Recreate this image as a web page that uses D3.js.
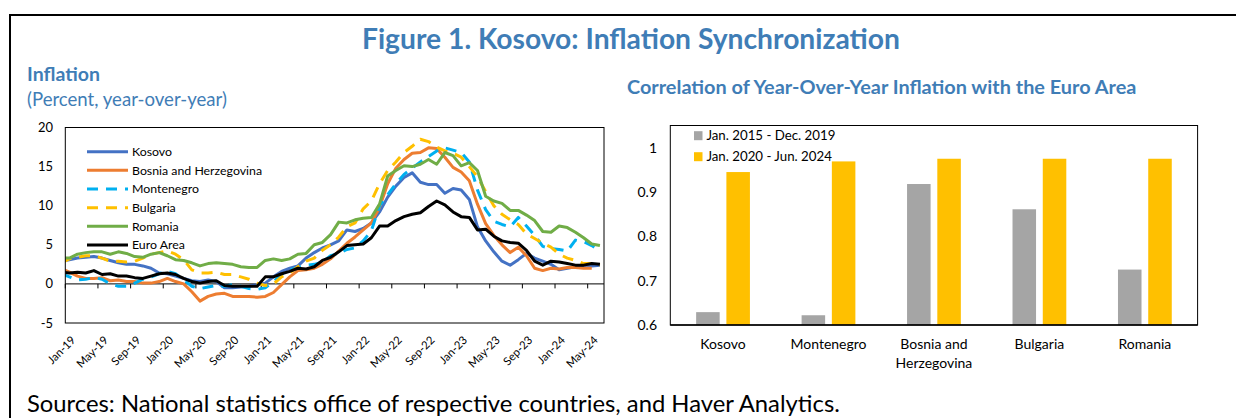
<!DOCTYPE html>
<html>
<head>
<meta charset="utf-8">
<script src="https://cdn.jsdelivr.net/npm/d3@7"></script>
<style>
  html, body { margin: 0; padding: 0; background: #fff; }
  svg { display: block; font-family: Lato, "Open Sans", sans-serif; }
</style>
</head>
<body>
<svg id="chart" width="1236" height="418"></svg>
<script>
// ---------------- DATA ----------------
// Monthly year-over-year inflation, Dec-18 (partly clipped at the left edge) to Jun-24
const months = (() => {
  const m = ["Jan","Feb","Mar","Apr","May","Jun","Jul","Aug","Sep","Oct","Nov","Dec"];
  const out = ["Dec-18"];
  for (let y = 19; y <= 24; y++) for (let k = 0; k < 12; k++) {
    if (y === 24 && k > 5) break;
    out.push(m[k] + "-" + y);
  }
  return out;
})();

const xTickLabels = ["Jan-19","May-19","Sep-19","Jan-20","May-20","Sep-20","Jan-21","May-21","Sep-21",
                     "Jan-22","May-22","Sep-22","Jan-23","May-23","Sep-23","Jan-24","May-24"];
const yTicksLeft = [-5, 0, 5, 10, 15, 20];

const kosovo = [2.9,
  3.1, 3.3, 3.4, 3.5, 3.3, 3.0, 2.7, 2.5, 2.5, 2.3, 2.0, 1.4,
  1.3, 1.0, 0.7, 0.4, 0.3, 0.5, 0.3, -0.5, -0.5, -0.4, -0.3, -0.1,
  0.1, 0.9, 1.6, 2.0, 2.3, 3.3, 4.0, 4.6, 5.0, 5.5, 6.9, 6.7,
  7.1, 7.8, 9.2, 11.1, 12.5, 13.6, 14.2, 13.0, 12.7, 12.7, 11.6, 12.2,
  12.0, 10.8, 7.3, 5.5, 4.1, 2.9, 2.4, 3.1, 3.9, 3.3, 2.9, 2.5,
  1.8, 2.0, 2.2, 2.2, 2.3, 2.4];

const bosnia = [2.0,
  1.5, 1.0, 0.7, 0.7, 0.8, 0.4, 0.5, 0.3, 0.3, 0.1, 0.1, 0.3,
  0.7, 0.3, 0.0, -1.0, -2.2, -1.6, -1.3, -1.2, -1.6, -1.6, -1.6, -1.7,
  -1.6, -1.1, -0.1, 0.9, 1.7, 1.8, 2.0, 2.5, 3.2, 4.2, 5.2, 6.0,
  6.9, 7.8, 9.8, 12.8, 14.8, 15.9, 16.7, 16.8, 17.4, 17.3, 16.2, 14.9,
  14.3, 13.2, 10.2, 7.7, 6.2, 5.0, 4.0, 4.7, 3.6, 2.0, 1.7, 2.0,
  1.9, 2.1, 2.1, 2.0, 2.0, null];

const montenegro = [1.3,
  0.9, 0.5, 0.6, 0.8, 0.6, 0.0, -0.3, -0.3, 0.1, 0.6, 0.9, 1.3,
  1.6, 1.3, 0.5, -0.3, -0.6, -0.4, -0.2, -0.3, -0.1, -0.3, -0.6, -0.7,
  -0.5, 0.3, 1.2, 1.8, 2.1, 2.4, 2.5, 2.8, 3.6, 3.9, 4.4, 4.6,
  5.5, 6.8, 10.0, 11.4, 12.8, 14.0, 14.8, 15.6, 16.3, 17.0, 17.4, 17.1,
  16.8, 15.6, 12.0, 9.5, 8.0, 7.6, 7.3, 8.5, 7.4, 6.2, 4.8, 4.5,
  4.4, 4.2, 5.6, 5.4, 4.9, 4.2];

const bulgaria = [2.7,
  3.2, 3.4, 3.6, 3.6, 3.3, 2.9, 2.9, 2.8, 2.9, 3.3, 3.8, 4.0,
  4.2, 3.8, 3.1, 1.8, 1.4, 1.4, 1.5, 1.2, 1.2, 0.9, 0.6, 0.1,
  -0.2, 0.0, 0.9, 1.4, 2.2, 2.9, 3.3, 4.3, 5.0, 6.0, 7.3, 7.8,
  9.6, 10.6, 12.8, 14.5, 15.6, 16.8, 17.6, 18.5, 18.2, 17.5, 17.0, 16.7,
  16.2, 15.0, 13.7, 11.8, 10.0, 8.9, 8.2, 7.6, 6.4, 5.8, 5.2, 4.7,
  3.8, 3.3, 3.0, 2.6, 2.6, 2.4];

const romania = [3.3,
  3.3, 3.8, 4.0, 4.1, 4.1, 3.8, 4.1, 3.9, 3.5, 3.4, 3.8, 4.0,
  3.6, 3.1, 3.0, 2.7, 2.3, 2.6, 2.7, 2.6, 2.5, 2.2, 2.1, 2.1,
  3.0, 3.2, 3.0, 3.2, 3.8, 3.9, 5.0, 5.3, 6.3, 7.9, 7.8, 8.2,
  8.4, 8.5, 10.2, 13.8, 14.5, 15.1, 15.0, 15.3, 15.9, 15.3, 16.8, 16.4,
  15.1, 15.5, 14.5, 11.2, 10.6, 10.3, 9.4, 9.4, 8.8, 8.1, 6.7, 6.6,
  7.4, 7.2, 6.6, 5.9, 5.1, 4.9];

const euroArea = [1.5,
  1.4, 1.5, 1.4, 1.7, 1.2, 1.3, 1.0, 1.0, 0.8, 0.7, 1.0, 1.3,
  1.4, 1.2, 0.7, 0.3, 0.1, 0.3, 0.4, -0.2, -0.3, -0.3, -0.3, -0.3,
  0.9, 0.9, 1.3, 1.6, 2.0, 1.9, 2.2, 3.0, 3.4, 4.1, 4.9, 5.0,
  5.1, 5.9, 7.4, 7.4, 8.1, 8.6, 8.9, 9.1, 9.9, 10.6, 10.1, 9.2,
  8.6, 8.5, 6.9, 7.0, 6.1, 5.5, 5.3, 5.2, 4.3, 2.9, 2.4, 2.9,
  2.8, 2.6, 2.4, 2.4, 2.6, 2.5];

const lineSeriesNames = ["Kosovo", "Bosnia and Herzegovina", "Montenegro", "Bulgaria", "Romania", "Euro Area"];

// Correlation chart
const corrCategories = ["Kosovo", "Montenegro", "Bosnia and Herzegovina", "Bulgaria", "Romania"];
const corrPeriods = ["Jan. 2015 - Dec. 2019", "Jan. 2020 - Jun. 2024"];
const corr2015_2019 = [0.629, 0.622, 0.918, 0.861, 0.725];
const corr2020_2024 = [0.945, 0.969, 0.975, 0.975, 0.975];
const yTicksRight = [0.6, 0.7, 0.8, 0.9, 1];

// ---------------- DRAW ----------------
const svg = d3.select("#chart");
const BLUE = "#3f7db6";

function fitWidth(sel, w) {
  const cur = sel.node().getComputedTextLength();
  const fs = parseFloat(sel.attr("font-size"));
  sel.attr("font-size", (fs * w / cur).toFixed(2));
}
// font size that makes a sample string reach a target width
function sizeFor(sample, w, weight) {
  const tmp = svg.append("text").attr("font-size", 20).attr("font-weight", weight || 400).text(sample);
  const len = tmp.node().getComputedTextLength();
  tmp.remove();
  return +(20 * w / len).toFixed(2);
}

svg.append("rect").attr("width", 1236).attr("height", 418).attr("fill", "#fff");

// frame
svg.append("path").attr("d", "M10,418 L10,15 L1236,15")
  .attr("fill", "none").attr("stroke", "#000").attr("stroke-width", 2);

// main title
const t = svg.append("text").attr("x", 362).attr("y", 48.5)
  .attr("font-size", 24).attr("font-weight", 700).attr("fill", BLUE)
  .text("Figure 1. Kosovo: Inflation Synchronization");
fitWidth(t, 538);

// left header
const h1 = svg.append("text").attr("x", 27).attr("y", 81)
  .attr("font-size", 16).attr("font-weight", 700).attr("fill", BLUE).text("Inflation");
fitWidth(h1, 73);
const h2 = svg.append("text").attr("x", 27).attr("y", 105.5)
  .attr("font-size", 16).attr("fill", BLUE).text("(Percent, year-over-year)");
fitWidth(h2, 200);

// ----- Left line chart -----
const L = { left: 65.3, right: 604, top: 127.5, bottom: 323 };
const x = d3.scaleLinear().domain([0, 66]).range([L.left, L.right]);
const y = d3.scaleLinear().domain([-5, 20]).range([L.bottom, L.top]);
const px = i => x(i - 1 + 0.5);   // array index 0 = Dec-18

const fsTickL = sizeFor("20", 15);
const fsLegL = sizeFor("Bosnia and Herzegovina", 130);
const fsXLab = sizeFor("Jan-19", 34);

const gL = svg.append("g");
gL.append("clipPath").attr("id", "clipL").append("rect")
  .attr("x", L.left).attr("y", L.top).attr("width", L.right - L.left).attr("height", L.bottom - L.top);

gL.selectAll(".yl").data(yTicksLeft).join("text")
  .attr("x", 53).attr("y", d => y(d)).attr("dy", "0.35em")
  .attr("text-anchor", "end").attr("font-size", fsTickL).attr("fill", "#000")
  .text(d => d);

gL.append("line").attr("x1", L.left).attr("x2", L.right).attr("y1", y(0)).attr("y2", y(0))
  .attr("stroke", "#000").attr("stroke-width", 1);
gL.selectAll(".xt").data(d3.range(xTickLabels.length)).join("line")
  .attr("x1", k => x(4 * k)).attr("x2", k => x(4 * k))
  .attr("y1", y(0)).attr("y2", y(0) + 4.5)
  .attr("stroke", "#000").attr("stroke-width", 1);

gL.selectAll(".xl").data(xTickLabels).join("text")
  .attr("transform", (d, k) => `translate(${x(4 * k + 0.5) + 4},${L.bottom + 15}) rotate(-45)`)
  .attr("text-anchor", "end").attr("dy", "0.35em")
  .attr("font-size", fsXLab).attr("fill", "#000").text(d => d);

const series = [
  { data: kosovo, color: "#4472C4", dash: null, w: 3 },
  { data: bosnia, color: "#ED7D31", dash: null, w: 3 },
  { data: montenegro, color: "#00B0F0", dash: "11,8", w: 3 },
  { data: bulgaria, color: "#FFC000", dash: "11,8", w: 3 },
  { data: romania, color: "#70AD47", dash: null, w: 3 },
  { data: euroArea, color: "#000000", dash: null, w: 3 }
];
const line = d3.line().defined(d => d != null).x((d, i) => px(i)).y(d => y(d));
const gLines = gL.append("g").attr("clip-path", "url(#clipL)");
series.forEach(s => {
  gLines.append("path").datum(s.data).attr("d", line)
    .attr("fill", "none").attr("stroke", s.color).attr("stroke-width", s.w)
    .attr("stroke-dasharray", s.dash).attr("stroke-linejoin", "round");
});

gL.append("rect").attr("x", L.left).attr("y", L.top)
  .attr("width", L.right - L.left).attr("height", L.bottom - L.top)
  .attr("fill", "none").attr("stroke", "#000").attr("stroke-width", 1);

const leg = gL.append("g");
series.forEach((s, k) => {
  const yy = 151.7 + k * 18.65;
  leg.append("line").attr("x1", 87).attr("x2", 128).attr("y1", yy).attr("y2", yy)
    .attr("stroke", s.color).attr("stroke-width", s.w).attr("stroke-dasharray", s.dash);
  leg.append("text").attr("x", 132).attr("y", yy).attr("dy", "0.35em")
    .attr("font-size", fsLegL).attr("fill", "#000").text(lineSeriesNames[k]);
});

// ----- Right bar chart -----
const R = { left: 670.3, right: 1197.6, top: 125.5, bottom: 325 };
const rt = svg.append("text").attr("x", 627).attr("y", 94)
  .attr("font-size", 16.5).attr("font-weight", 700).attr("fill", BLUE)
  .text("Correlation of Year-Over-Year Inflation with the Euro Area");
fitWidth(rt, 510);

const fsTickR = sizeFor("0.9", 19.5);
const fsCat = sizeFor("Montenegro", 76);
const fsLegR = sizeFor("Jan. 2015 - Dec. 2019", 129);

const x0 = d3.scaleBand().domain(corrCategories).range([R.left, R.right])
  .paddingInner(0.49).paddingOuter(0.245);
const x1 = d3.scaleBand().domain(corrPeriods).range([0, x0.bandwidth()]).paddingInner(0.222);
const yR = d3.scaleLinear().domain([0.6, 1.05]).range([R.bottom, R.top]);
const barColors = ["#A5A5A5", "#FFC000"];

const gR = svg.append("g");
gR.selectAll(".yr").data(yTicksRight).join("text")
  .attr("x", 657).attr("y", d => yR(d)).attr("dy", "0.35em")
  .attr("text-anchor", "end").attr("font-size", fsTickR).attr("fill", "#000")
  .text(d => String(+d.toFixed(1)));

const barRows = corrCategories.map((c, i) => ({ c, vals: [corr2015_2019[i], corr2020_2024[i]] }));
const grp = gR.selectAll(".grp").data(barRows).join("g")
  .attr("transform", d => `translate(${x0(d.c)},0)`);
grp.selectAll("rect").data(d => d.vals.map((v, j) => ({ p: corrPeriods[j], v, j }))).join("rect")
  .attr("x", d => x1(d.p)).attr("width", x1.bandwidth())
  .attr("y", d => yR(d.v)).attr("height", d => R.bottom - yR(d.v))
  .attr("fill", d => barColors[d.j]);

gR.append("rect").attr("x", R.left).attr("y", R.top)
  .attr("width", R.right - R.left).attr("height", R.bottom - R.top)
  .attr("fill", "none").attr("stroke", "#000").attr("stroke-width", 1);
gR.append("line").attr("x1", R.left).attr("x2", R.right).attr("y1", R.bottom).attr("y2", R.bottom)
  .attr("stroke", "#000").attr("stroke-width", 1.5);

function wrapLabel(s) {
  const k = s.indexOf(" and ");
  return k >= 0 ? [s.slice(0, k + 4), s.slice(k + 5)] : [s];
}
corrCategories.forEach(c => {
  const lines = wrapLabel(c);
  const tx = gR.append("text").attr("text-anchor", "middle")
    .attr("font-size", fsCat).attr("fill", "#000");
  lines.forEach((ln, k) => {
    tx.append("tspan").attr("x", x0(c) + x0.bandwidth() / 2)
      .attr("y", 344.5 + k * 19).attr("dy", "0.35em").text(ln);
  });
});

corrPeriods.forEach((p, k) => {
  const yy = 135.7 + k * 21;
  gR.append("rect").attr("x", 694).attr("y", yy - 4.5).attr("width", 8.5).attr("height", 9)
    .attr("fill", barColors[k]);
  gR.append("text").attr("x", 706.4).attr("y", yy).attr("dy", "0.35em")
    .attr("font-size", fsLegR).attr("fill", "#000").text(p);
});

// sources
const src = svg.append("text").attr("x", 27).attr("y", 411.5)
  .attr("font-size", 21).attr("fill", "#000")
  .text("Sources: National statistics office of respective countries, and Haver Analytics.");
fitWidth(src, 813);
</script>
</body>
</html>
